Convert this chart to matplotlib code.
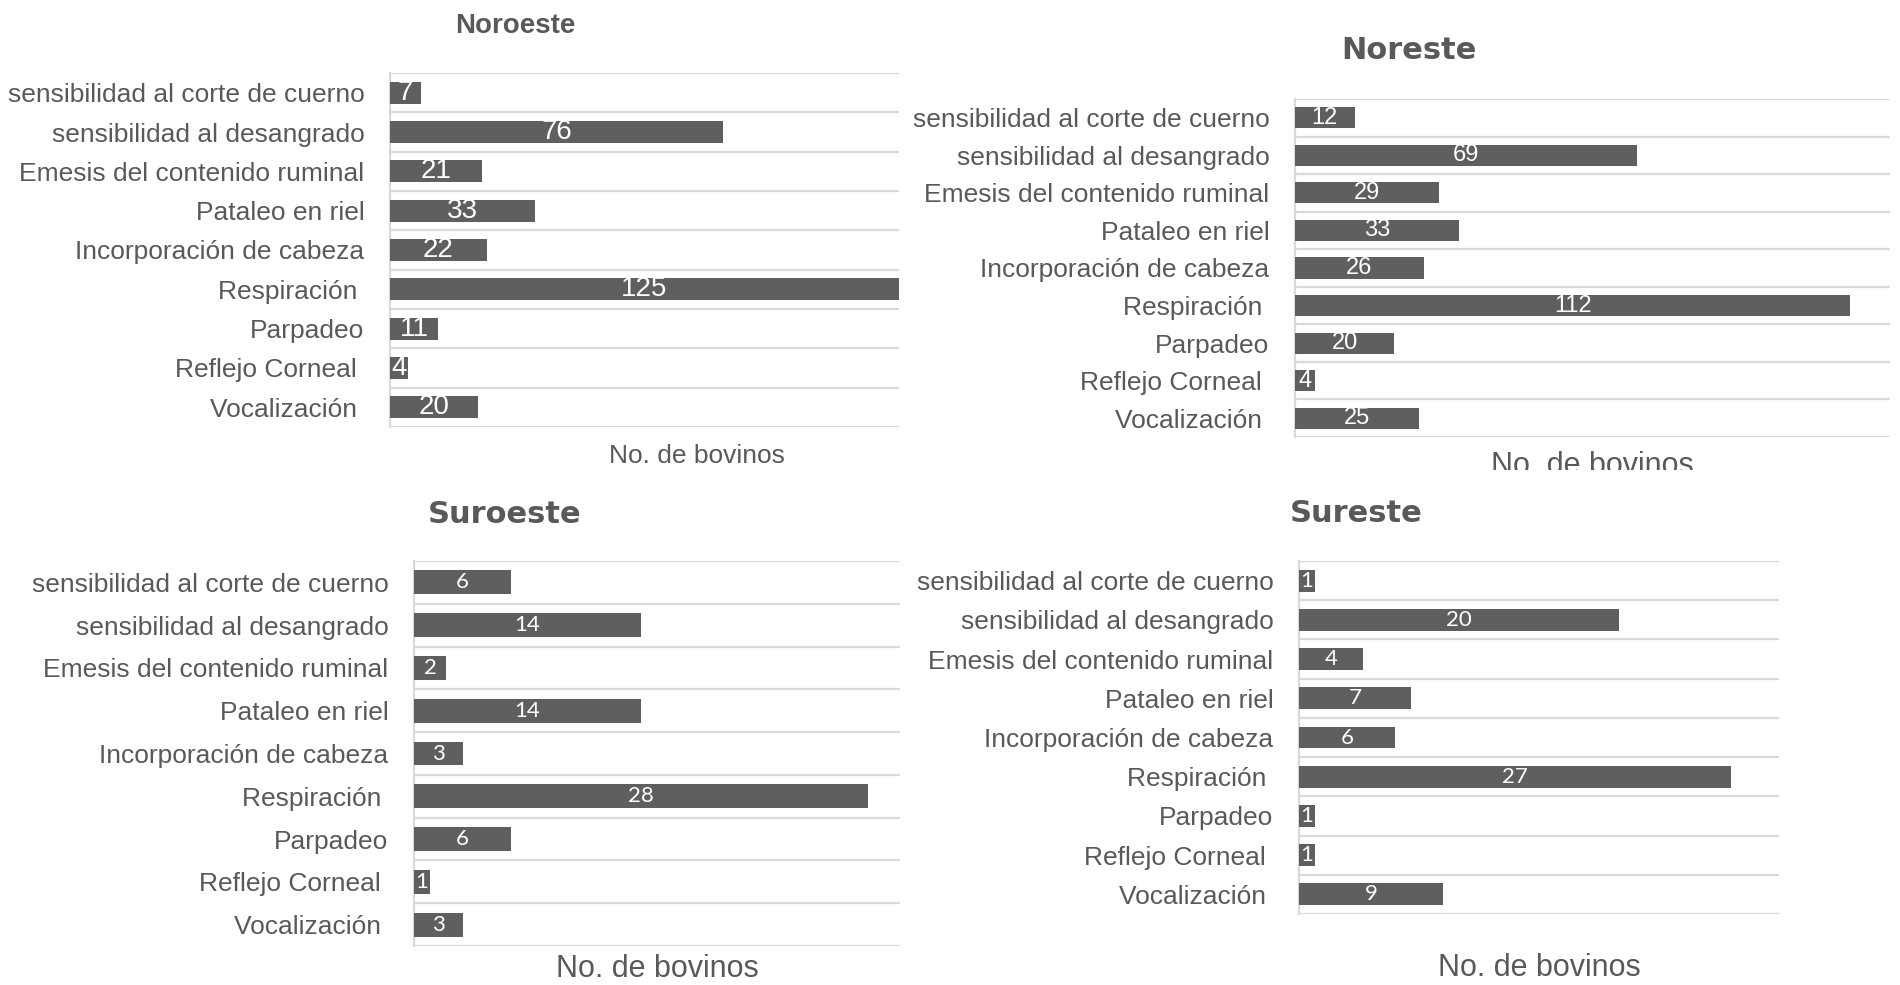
import numpy as np
import matplotlib
matplotlib.use("Agg")
import matplotlib.pyplot as plt
from matplotlib.transforms import Bbox

# Response categories (top to bottom)
categories = [
    "sensibilidad al corte de cuerno",
    "sensibilidad al desangrado",
    "Emesis del contenido ruminal",
    "Pataleo en riel",
    "Incorporación de cabeza",
    "Respiración ",
    "Parpadeo",
    "Reflejo Corneal ",
    "Vocalización ",
]

# Number of cattle per region
noroeste = [7, 76, 21, 33, 22, 125, 11, 4, 20]
noreste = [12, 69, 29, 33, 26, 112, 20, 4, 25]
suroeste = [6, 14, 2, 14, 3, 28, 6, 1, 3]
sureste = [1, 20, 4, 7, 6, 27, 1, 1, 9]

x_label = "No. de bovinos"

W, H = 1900, 985
BAR = "#5f5f5f"
GRID = "#d9d9d9"
TEXT = "#595959"
ARIAL = ["Liberation Sans", "DejaVu Sans"]
CALIBRI_LIKE = ["Lato", "DejaVu Sans"]

fig = plt.figure(figsize=(W / 100, H / 100), dpi=100)
fig.patch.set_facecolor("white")


def px_axes(left, top, right, bottom):
    return fig.add_axes([left / W, 1 - bottom / H, (right - left) / W, (bottom - top) / H])


def panel(box, values, xmax, value_font, value_size):
    ax = px_axes(*box)
    y = np.arange(len(categories))
    bars = ax.barh(y, values, height=0.56, color=BAR, zorder=3)
    ax.set_xlim(0, xmax)
    ax.set_ylim(len(categories) - 0.5, -0.5)
    ax.set_yticks(y)
    ax.set_yticklabels(categories, family=ARIAL, fontsize=19, color=TEXT)
    ax.tick_params(axis="y", length=0, pad=18.5)
    ax.set_xticks([])
    ax.set_yticks(np.arange(-0.5, len(categories)), minor=True)
    ax.tick_params(axis="y", which="minor", length=0)
    ax.grid(True, axis="y", which="minor", color=GRID, linewidth=1.6, zorder=0)
    for side in ("top", "right", "bottom"):
        ax.spines[side].set_visible(False)
    ax.spines["left"].set_color(GRID)
    ax.spines["left"].set_linewidth(1.6)
    ax.bar_label(bars, labels=[str(v) for v in values], label_type="center",
                 color="white", family=value_font, fontsize=value_size)
    return ax


# Noroeste
panel((390, 73, 899, 427), noroeste, 116, ARIAL, 20)
fig.text(515 / W, 1 - 33 / H, "Noroeste", ha="center", va="baseline",
         family=ARIAL, fontweight="bold", fontsize=20, color=TEXT)
fig.text(697 / W, 1 - 463 / H, x_label, ha="center", va="baseline",
         family=ARIAL, fontsize=19, color=TEXT)

# Noreste
panel((1295, 99, 1890, 437), noreste, 120, ARIAL, 17)
fig.text(1409 / W, 1 - 59 / H, "Noreste", ha="center", va="baseline",
         family="DejaVu Sans", fontweight="bold", fontsize=22, color=TEXT)
ne_x = fig.text(1592 / W, 1 - 474 / H, x_label, ha="center", va="baseline",
                family=ARIAL, fontsize=22, color=TEXT)
ne_x.set_clip_box(Bbox([[0, H - 470], [W, H]]))
ne_x.set_clip_on(True)

# Suroeste
panel((414, 561, 900, 946), suroeste, 30, CALIBRI_LIKE, 16)
fig.text(505 / W, 1 - 523 / H, "Suroeste", ha="center", va="baseline",
         family="DejaVu Sans", fontweight="bold", fontsize=22, color=TEXT)
fig.text(657 / W, 1 - 977 / H, x_label, ha="center", va="baseline",
         family=ARIAL, fontsize=22, color=TEXT)

# Sureste
panel((1299, 561, 1779, 914), sureste, 30, CALIBRI_LIKE, 16)
fig.text(1356 / W, 1 - 522 / H, "Sureste", ha="center", va="baseline",
         family="DejaVu Sans", fontweight="bold", fontsize=22, color=TEXT)
fig.text(1539 / W, 1 - 976 / H, x_label, ha="center", va="baseline",
         family=ARIAL, fontsize=22, color=TEXT)

fig.savefig("out.png", dpi=100, facecolor="white")
